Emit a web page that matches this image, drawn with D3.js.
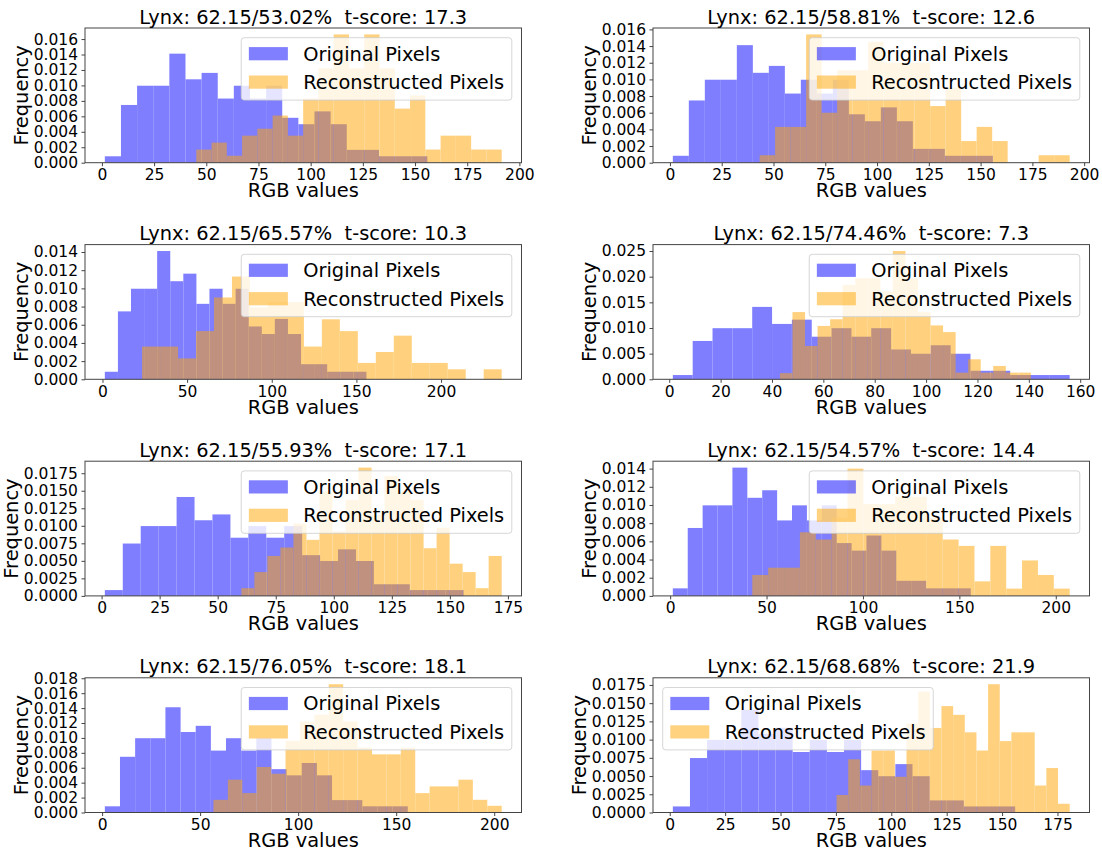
<!DOCTYPE html>
<html><head><meta charset="utf-8">
<script src="https://cdn.jsdelivr.net/npm/d3@7"></script>
<style>
html,body{margin:0;padding:0;background:#fff;}
svg text{font-family:"DejaVu Sans",sans-serif;white-space:pre;fill:#000;}
</style></head><body>
<svg id="chart" width="1102" height="852"></svg>
<script>
// ---------- data ----------
const titles = [
  "Lynx: 62.15/53.02%  t-score: 17.3",
  "Lynx: 62.15/58.81%  t-score: 12.6",
  "Lynx: 62.15/65.57%  t-score: 10.3",
  "Lynx: 62.15/74.46%  t-score: 7.3",
  "Lynx: 62.15/55.93%  t-score: 17.1",
  "Lynx: 62.15/54.57%  t-score: 14.4",
  "Lynx: 62.15/76.05%  t-score: 18.1",
  "Lynx: 62.15/68.68%  t-score: 21.9"
];
const originalLabel = "Original Pixels";
const reconLabels = ["Reconstructed Pixels","Recosntructed Pixels","Reconstructed Pixels","Reconstructed Pixels",
                     "Reconstructed Pixels","Reconstructed Pixels","Reconstructed Pixels","Reconstructed Pixels"];
const legendCorners = ["right","right","right","right","right","right","right","left"];
const xLabel = "RGB values";
const yLabel = "Frequency";

// Original pixels: 20 bins, same in every panel (density)
const originalRange = [1.4, 155.9];
const originalDensity = [0.00083,0.00747,0.00996,0.00996,0.01411,0.01079,0.01162,0.0083,0.00996,0.0083,
                         0.00996,0.00581,0.00498,0.00664,0.00498,0.00166,0.00166,0.00083,0.00083,0.00083];

// Reconstructed pixels: 20 bins per panel (density)
const reconRange1 = [45.2, 191.5];
const reconDensity1 = [0.0017,0.0026,0.0009,0.0035,0.0044,0.0061,0.0035,0.0083,0.0122,0.0166,
                       0.0122,0.0166,0.0122,0.0070,0.0087,0.0017,0.0035,0.0035,0.0017,0.0017];
const reconRange2 = [43.3, 193.0];
const reconDensity2 = [0.0009,0.0043,0.0043,0.0154,0.0060,0.0111,0.0111,0.0145,0.0120,0.0120,
                       0.0120,0.0068,0.0090,0.0026,0.0043,0.0026,0,0,0.0009,0.0009];
const reconRange3 = [23.4, 235.8];
const reconDensity3 = [0.0036,0.0036,0.0023,0.0053,0.0090,0.0113,0.0079,0.0085,0.0085,0.0036,
                       0.0066,0.0053,0.0018,0.0030,0.0048,0.0018,0.0018,0.0011,0,0.0011];
const reconRange4 = [43.1, 140.8];
const reconDensity4 = [0.0012,0.0131,0.0065,0.0104,0.0117,0.0184,0.0197,0.0197,0.0171,0.0250,
                       0.0197,0.0131,0.0105,0.0092,0.0013,0.0039,0.0013,0.0026,0.0013,0.0013];
const reconRange5 = [60.2, 172.3];
const reconDensity5 = [0.0011,0.0034,0.0057,0.0069,0.0103,0.0080,0.0149,0.0092,0.0137,0.0183,
                       0.0115,0.0171,0.0149,0.0137,0.0068,0.0097,0.0046,0.0034,0.0011,0.0057];
const reconRange6 = [42.6, 207.2];
const reconDensity6 = [0.0023,0.0031,0.0031,0.0070,0.0062,0.0086,0.0140,0.0101,0.0101,0.0109,
                       0.0109,0.0086,0.0062,0.0055,0.0016,0.0055,0.0008,0.0039,0.0023,0.0008];
const reconRange7 = [56.8, 203.8];
const reconDensity7 = [0.0017,0.0044,0.0026,0.0061,0.0052,0.0096,0.0122,0.0131,0.0172,0.0122,
                       0.0087,0.0078,0.0078,0.0087,0.0026,0.0035,0.0035,0.0044,0.0017,0.0009];
const reconRange8 = [75.3, 180.5];
const reconDensity8 = [0.0024,0.0073,0.0037,0.0085,0.0085,0.0049,0.0122,0.0166,0.0116,0.0146,
                       0.0134,0.0110,0.0085,0.0176,0.0098,0.0110,0.0110,0.0037,0.0061,0.0012];

// tick values
const xTicks1 = [0,25,50,75,100,125,150,175,200];
const xTicks2 = [0,25,50,75,100,125,150,175,200];
const xTicks3 = [0,50,100,150,200];
const xTicks4 = [0,20,40,60,80,100,120,140,160];
const xTicks5 = [0,25,50,75,100,125,150,175];
const xTicks6 = [0,50,100,150,200];
const xTicks7 = [0,50,100,150,200];
const xTicks8 = [0,25,50,75,100,125,150,175];
const yTicks1 = [0,0.002,0.004,0.006,0.008,0.010,0.012,0.014,0.016];
const yTicks2 = [0,0.002,0.004,0.006,0.008,0.010,0.012,0.014,0.016];
const yTicks3 = [0,0.002,0.004,0.006,0.008,0.010,0.012,0.014];
const yTicks4 = [0,0.005,0.010,0.015,0.020,0.025];
const yTicks5 = [0,0.0025,0.0050,0.0075,0.0100,0.0125,0.0150,0.0175];
const yTicks6 = [0,0.002,0.004,0.006,0.008,0.010,0.012,0.014];
const yTicks7 = [0,0.002,0.004,0.006,0.008,0.010,0.012,0.014,0.016,0.018];
const yTicks8 = [0,0.0025,0.0050,0.0075,0.0100,0.0125,0.0150,0.0175];

const reconRanges = [reconRange1,reconRange2,reconRange3,reconRange4,reconRange5,reconRange6,reconRange7,reconRange8];
const reconDensities = [reconDensity1,reconDensity2,reconDensity3,reconDensity4,reconDensity5,reconDensity6,reconDensity7,reconDensity8];
const xTicksAll = [xTicks1,xTicks2,xTicks3,xTicks4,xTicks5,xTicks6,xTicks7,xTicks8];
const yTicksAll = [yTicks1,yTicks2,yTicks3,yTicks4,yTicks5,yTicks6,yTicks7,yTicks8];

// ---------- layout ----------
const W = 1102, H = 852;
const colX = [85, 653], axW = 436.5;
const rowY = [28, 244.6, 461.2, 677.8], axH = 134.7;
const FS_BIG = 19.4, FS_TICK = 15.5;
const frameColor = "#444";

const svg = d3.select("#chart");
svg.append("rect").attr("width", W).attr("height", H).attr("fill", "#fff");

function edgesOf(r){ return d3.range(21).map(k => r[0] + k*(r[1]-r[0])/20); }
function decimalsFor(ticks){
  for (let d = 0; d < 8; d++) {
    const m = Math.pow(10, d);
    if (ticks.every(t => Math.abs(t*m - Math.round(t*m)) < 1e-6)) return Math.max(d, 3);
  }
  return 4;
}

for (let i = 0; i < 8; i++) {
  const col = i % 2, row = Math.floor(i / 2);
  const g = svg.append("g").attr("transform", `translate(${colX[col]},${rowY[row]})`);
  const rr = reconRanges[i], rd = reconDensities[i];
  const lo = Math.min(originalRange[0], rr[0]), hi = Math.max(originalRange[1], rr[1]);
  const pad = 0.05 * (hi - lo);
  const x = d3.scaleLinear().domain([lo - pad, hi + pad]).range([0, axW]);
  const ymax = Math.max(d3.max(originalDensity), d3.max(rd)) * 1.05;
  const y = d3.scaleLinear().domain([0, ymax]).range([axH, 0]);

  const eB = edgesOf(originalRange), eR = edgesOf(rr);
  const series = [
    {dens: originalDensity, edges: eB, color: "#0000ff", cls: "orig"},
    {dens: rd, edges: eR, color: "#ffa500", cls: "recon"}
  ];
  series.forEach(s => {
    g.append("g").attr("class", s.cls).attr("opacity", 0.5)
      .selectAll("rect").data(s.dens).join("rect")
      .attr("x", (d, k) => x(s.edges[k]))
      .attr("width", (d, k) => x(s.edges[k+1]) - x(s.edges[k]) + 0.02)
      .attr("y", d => y(d))
      .attr("height", d => axH - y(d))
      .attr("fill", s.color);
  });

  // axes
  const yt = yTicksAll[i];
  const dec = decimalsFor(yt);
  const xAxis = g.append("g").attr("transform", `translate(0,${axH})`)
    .call(d3.axisBottom(x).tickValues(xTicksAll[i]).tickSize(3.5).tickPadding(3).tickFormat(d3.format("d")));
  const yAxis = g.append("g")
    .call(d3.axisLeft(y).tickValues(yt).tickSize(3.5).tickPadding(3.5).tickFormat(d3.format("." + dec + "f")));
  [xAxis, yAxis].forEach(a => {
    a.select(".domain").remove();
    a.selectAll("line").attr("stroke", frameColor).attr("stroke-width", 1);
    a.selectAll("text").attr("font-size", FS_TICK).attr("font-family", "DejaVu Sans").attr("fill", "#000");
  });

  // frame
  g.append("rect").attr("x", 0).attr("y", 0).attr("width", axW).attr("height", axH)
    .attr("fill", "none").attr("stroke", frameColor).attr("stroke-width", 1);

  // title & labels
  g.append("text").attr("x", axW/2).attr("y", -4.5).attr("text-anchor", "middle")
    .attr("font-size", FS_BIG).text(titles[i]);
  g.append("text").attr("x", axW/2).attr("y", axH + 34.5).attr("text-anchor", "middle")
    .attr("font-size", FS_BIG).text(xLabel);
  const yb = yAxis.node().getBBox();
  const absMin = 17.5 - colX[col];           // keep the rotated label inside the page
  const ylx = Math.max(yb.x - 6, absMin);
  g.append("text").attr("transform", `translate(${ylx},${axH/2}) rotate(-90)`)
    .attr("text-anchor", "middle").attr("font-size", FS_BIG).text(yLabel);

  // legend
  const lg = g.append("g").attr("class", "legend");
  const labels = [originalLabel, reconLabels[i]];
  const colors = ["#0000ff", "#ffa500"];
  const tmp = lg.append("text").attr("font-size", FS_BIG);
  const tw = d3.max(labels, t => { tmp.text(t); return tmp.node().getComputedTextLength(); });
  tmp.remove();
  const bp = 7.6, hl = 39.0, htp = 15.4, bh = 62.4;
  const bw = bp + hl + htp + tw + bp;
  const bx = legendCorners[i] === "right" ? axW - 9.7 - bw : 9.7;
  const by = 9.7;
  lg.append("rect").attr("x", bx).attr("y", by).attr("width", bw).attr("height", bh)
    .attr("rx", 3).attr("ry", 3)
    .attr("fill", "#fff").attr("fill-opacity", 0.8)
    .attr("stroke", "#ccc").attr("stroke-opacity", 0.8).attr("stroke-width", 1);
  const rowC = [16, 44.4], rowB = [23, 51.6];
  labels.forEach((t, k) => {
    lg.append("rect").attr("x", bx + bp).attr("y", by + rowC[k] - 6.6)
      .attr("width", hl).attr("height", 13.2)
      .attr("fill", colors[k]).attr("fill-opacity", 0.5);
    lg.append("text").attr("x", bx + bp + hl + htp).attr("y", by + rowB[k])
      .attr("font-size", FS_BIG).text(t);
  });
}
</script>
</body></html>
